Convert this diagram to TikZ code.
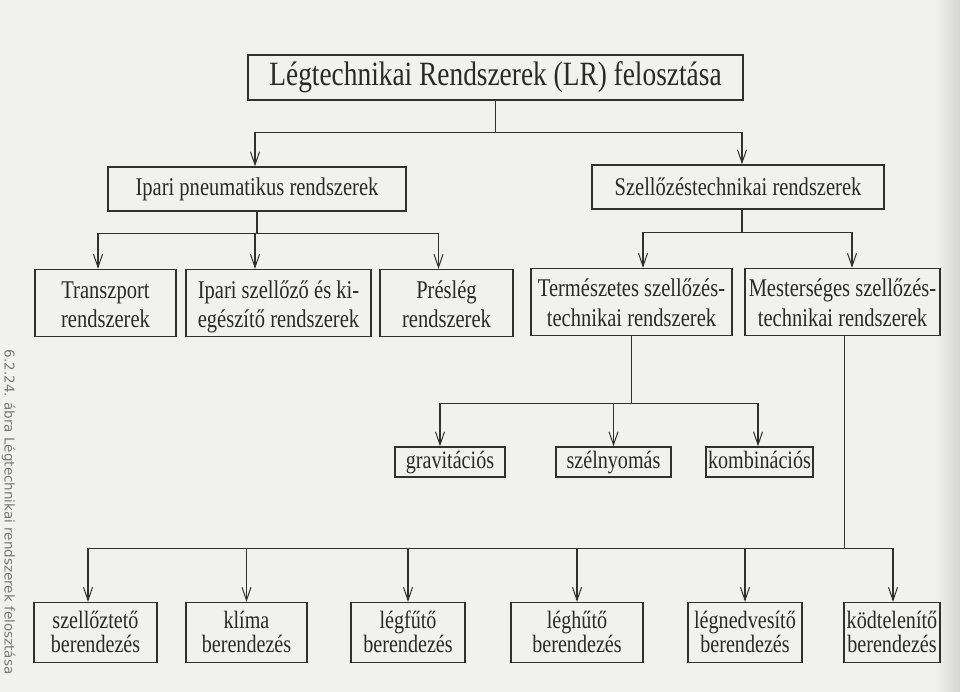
\documentclass[tikz,border=0pt]{standalone}
\usepackage{fontspec}
\setmainfont[FakeStretch=0.805]{Liberation Serif}
\setsansfont{DejaVu Sans}
\usetikzlibrary{arrows.meta}
\definecolor{paper}{RGB}{241,241,239}
\definecolor{edgegray}{RGB}{212,212,210}
\definecolor{ink}{RGB}{48,48,48}
\newcommand\Htop[1]{\rule{0pt}{#1}}
\newcommand\Dbot[1]{\rule[-#1]{0pt}{#1}}
\newcommand\noskiplimit{\setlength{\lineskiplimit}{-20pt}}
\tikzset{
  box/.style={draw=ink, line width=1.4pt, rectangle, inner sep=0pt, align=center, text=ink!85!black},
  bigbox/.style={box, font=\fontsize{34}{36}\selectfont},
  midbox/.style={box, font=\fontsize{25.5}{28}\selectfont},
  twobox/.style={box, font=\fontsize{25.5}{29}\selectfont\noskiplimit},
  onebox/.style={box, font=\fontsize{25}{28}\selectfont},
  devbox/.style={box, font=\fontsize{25}{24}\selectfont\noskiplimit},
  link/.style={draw=ink, line width=1.4pt},
  arr/.style={link, -{Straight Barb[length=13pt,width=9pt,line width=1pt]}},
}
\begin{document}
\begin{tikzpicture}[x=1pt,y=-1pt]
\fill[paper] (0,0) rectangle (960,692);
\shade[left color=paper, right color=edgegray] (936,0) rectangle (960,692);
\useasboundingbox (0,0) rectangle (960,692);
% caption along the left edge
\node[rotate=-90, anchor=south, inner sep=0pt, font=\sffamily\fontsize{13.5}{15}\selectfont, text=ink!65] (cap) at (1.5,512) {6.2.24. ábra Légtechnikai rendszerek felosztása};
% level 1
\node[bigbox, minimum width=495pt, minimum height=45pt] (title) at (495.5,77.5) {Légtechnikai Rendszerek (LR) felosztása};
% level 2
\node[midbox, minimum width=298pt, minimum height=44pt] (ipari) at (257,189) {Ipari pneumatikus rendszerek};
\node[midbox, minimum width=292pt, minimum height=44pt] (szell) at (738,187) {Szellőzéstechnikai rendszerek};
% level 3
\node[twobox, minimum width=141pt, minimum height=67pt] (transz) at (105.5,303) {\Htop{26pt}Transzport\\rendszerek\Dbot{7pt}};
\node[twobox, minimum width=185pt, minimum height=67pt] (iparisz) at (278.5,303) {\Htop{26pt}Ipari szellőző és ki-\\egészítő rendszerek\Dbot{7pt}};
\node[twobox, minimum width=133pt, minimum height=67pt] (presleg) at (446.5,303) {\Htop{26pt}Préslég\\rendszerek\Dbot{7pt}};
\node[twobox, minimum width=201pt, minimum height=67pt] (termesz) at (631.5,302) {\Htop{26pt}Természetes szellőzés-\\technikai rendszerek\Dbot{7pt}};
\node[twobox, minimum width=195pt, minimum height=67pt] (mester) at (842.5,302) {\Htop{26pt}Mesterséges szellőzés-\\technikai rendszerek\Dbot{7pt}};
% level 4
\node[onebox, minimum width=110pt, minimum height=30pt] (grav) at (450,462) {\Htop{18pt}gravitációs\Dbot{6pt}};
\node[onebox, minimum width=115pt, minimum height=30pt] (szel) at (613.5,462) {\Htop{18pt}szélnyomás\Dbot{6pt}};
\node[onebox, minimum width=107pt, minimum height=30pt] (komb) at (759.5,462) {\Htop{18pt}kombinációs\Dbot{6pt}};
% level 5
\node[devbox, minimum width=123pt, minimum height=60pt] (d1) at (95.5,632.5) {\Htop{22pt}szellőztető\\berendezés\Dbot{7pt}};
\node[devbox, minimum width=121pt, minimum height=60pt] (d2) at (246.5,632.5) {\Htop{22pt}klíma\\berendezés\Dbot{7pt}};
\node[devbox, minimum width=114pt, minimum height=60pt] (d3) at (408,632.5) {\Htop{22pt}légfűtő\\berendezés\Dbot{7pt}};
\node[devbox, minimum width=132pt, minimum height=60pt] (d4) at (577,632.5) {\Htop{22pt}léghűtő\\berendezés\Dbot{7pt}};
\node[devbox, minimum width=114pt, minimum height=60pt] (d5) at (745,632.5) {\Htop{22pt}légnedvesítő\\berendezés\Dbot{7pt}};
\node[devbox, minimum width=96pt, minimum height=60pt] (d6) at (892,632.5) {\Htop{22pt}ködtelenítő\\berendezés\Dbot{7pt}};
% connectors: title
\draw[link] (title.south) -- ++(0,32) coordinate (b1);
\draw[arr] (b1) -| ([xshift=-2pt]ipari.north);
\draw[arr] (b1) -| ([xshift=4pt]szell.north);
% ipari
\draw[link] (ipari.south) -- ++(0,22) coordinate (b2);
\draw[arr] (b2) -| ([xshift=-7.5pt]transz.north);
\draw[arr] (b2) -| ([xshift=-23.5pt]iparisz.north);
\draw[arr] (b2) -| ([xshift=-8pt]presleg.north);
% szell
\draw[link] ([xshift=4pt]szell.south) -- ++(0,23) coordinate (b3);
\draw[arr] (b3) -| ([xshift=11.5pt]termesz.north);
\draw[arr] (b3) -| ([xshift=9.5pt]mester.north);
% termesz
\draw[link] (termesz.south) -- ++(0,67) coordinate (b4);
\draw[arr] (b4) -| ([xshift=-10pt]grav.north);
\draw[arr] (b4) -| (szel.north);
\draw[arr] (b4) -| ([xshift=-1.5pt]komb.north);
% mester
\draw[link] ([xshift=2pt]mester.south) -- ++(0,212) coordinate (b5);
\draw[arr] (b5) -| ([xshift=-7.5pt]d1.north);
\draw[arr] (b5) -| (d2.north);
\draw[arr] (b5) -| (d3.north);
\draw[arr] (b5) -| (d4.north);
\draw[arr] (b5) -| (d5.north);
\draw[arr] (b5) -| ([xshift=1pt]d6.north);
\end{tikzpicture}
\end{document}
